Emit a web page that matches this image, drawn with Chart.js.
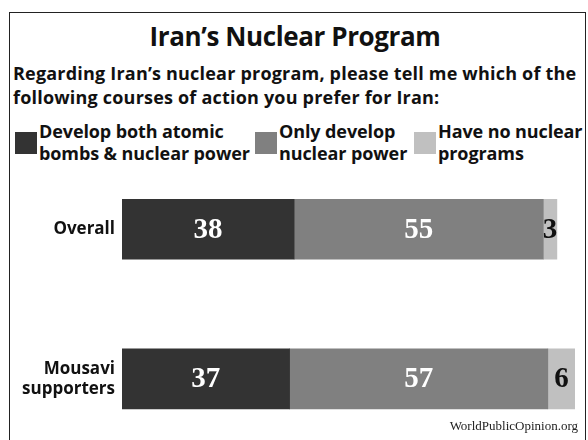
<!DOCTYPE html>
<html>
<head>
<meta charset="utf-8">
<script src="https://cdn.jsdelivr.net/npm/chart.js@4"></script>
<style>
  html, body { margin: 0; padding: 0; background: #fff; overflow: hidden; }
  body { width: 588px; height: 440px; position: relative; font-family: "Open Sans", Lato, sans-serif; color: #111; }
  #frame { position: absolute; left: 9px; top: 12px; width: 577px; height: 440px; border: 1px solid #222; box-sizing: border-box; }
  .txt { position: absolute; font-weight: bold; white-space: nowrap; }
  #title { left: 0; width: 590px; top: 18px; text-align: center; font-size: 26px; letter-spacing: -0.4px; }
  #question { left: 13px; top: 61px; font-size: 18px; line-height: 24px; letter-spacing: 0.2px; }
  .sw { position: absolute; width: 22px; height: 22px; }
  .leg { position: absolute; top: 120px; font-size: 18px; line-height: 22px; font-weight: bold; white-space: nowrap; letter-spacing: -0.1px; }
  #source { position: absolute; right: 10px; top: 418px; font-family: "Liberation Serif", serif; font-size: 13px; color: #222; z-index: 2; }
  #wrap { position: absolute; left: 0; top: 127px; width: 588px; height: 344px; }
</style>
</head>
<body>
<div id="frame"></div>
<div id="title" class="txt">Iran’s Nuclear Program</div>
<div id="question" class="txt">Regarding Iran’s nuclear program, please tell me which of the<br>following courses of action you prefer for Iran:</div>
<div id="legend"></div>
<div id="source">WorldPublicOpinion.org</div>
<div id="wrap"><canvas id="chart"></canvas></div>
<script>
const groups = [['Overall'], ['Mousavi', 'supporters']];
const seriesNames = [['Develop both atomic', 'bombs & nuclear power'], ['Only develop', 'nuclear power'], ['Have no nuclear', 'programs']];
const bothValues = [38, 37];
const powerOnlyValues = [55, 57];
const noProgramValues = [3, 6];
const colors = ['#333333', '#808080', '#c0c0c0'];
const labelColors = ['#ffffff', '#ffffff', '#111111'];

// legend drawn as plain html
const legendX = [15, 255, 414];
const legendEl = document.getElementById('legend');
seriesNames.forEach((name, i) => {
    const sw = document.createElement('div');
    sw.className = 'sw';
    sw.style.left = legendX[i] + 'px';
    sw.style.top = '132px';
    sw.style.background = colors[i];
    legendEl.appendChild(sw);
    const t = document.createElement('div');
    t.className = 'leg';
    t.style.left = (legendX[i] + 24) + 'px';
    t.innerHTML = name.join('<br>');
    legendEl.appendChild(t);
});

const valueLabels = {
    id: 'valueLabels',
    afterDatasetsDraw(chart) {
        const c = chart.ctx;
        c.save();
        c.font = 'bold 29px "Liberation Serif", serif';
        c.textAlign = 'center';
        c.textBaseline = 'middle';
        chart.data.datasets.forEach((ds, i) => {
            chart.getDatasetMeta(i).data.forEach((bar, j) => {
                c.fillStyle = labelColors[i];
                const x = (bar.x + bar.base) / 2;
                c.fillText(ds.data[j], x, bar.y + 1);
            });
        });
        c.restore();
    }
};

new Chart(document.getElementById('chart'), {
    type: 'bar',
    data: {
        labels: groups,
        datasets: [
            { label: seriesNames[0].join(' '), data: bothValues, backgroundColor: colors[0] },
            { label: seriesNames[1].join(' '), data: powerOnlyValues, backgroundColor: colors[1] },
            { label: seriesNames[2].join(' '), data: noProgramValues, backgroundColor: colors[2] }
        ]
    },
    options: {
        indexAxis: 'y',
        responsive: true,
        maintainAspectRatio: false,
        animation: false,
        layout: { padding: { right: 13, top: 0, bottom: 0 } },
        datasets: { bar: { barThickness: 60, borderWidth: 0 } },
        plugins: { legend: { display: false }, tooltip: { enabled: false } },
        scales: {
            x: { stacked: true, min: 0, max: 100, display: false },
            y: {
                stacked: true,
                grid: { display: false, drawTicks: false },
                border: { display: false },
                ticks: { color: '#111', padding: 7, font: { family: 'Open Sans', weight: 'bold', size: 17 } },
                afterFit(scale) { scale.width = 122; }
            }
        }
    },
    plugins: [valueLabels]
});
</script>
</body>
</html>
